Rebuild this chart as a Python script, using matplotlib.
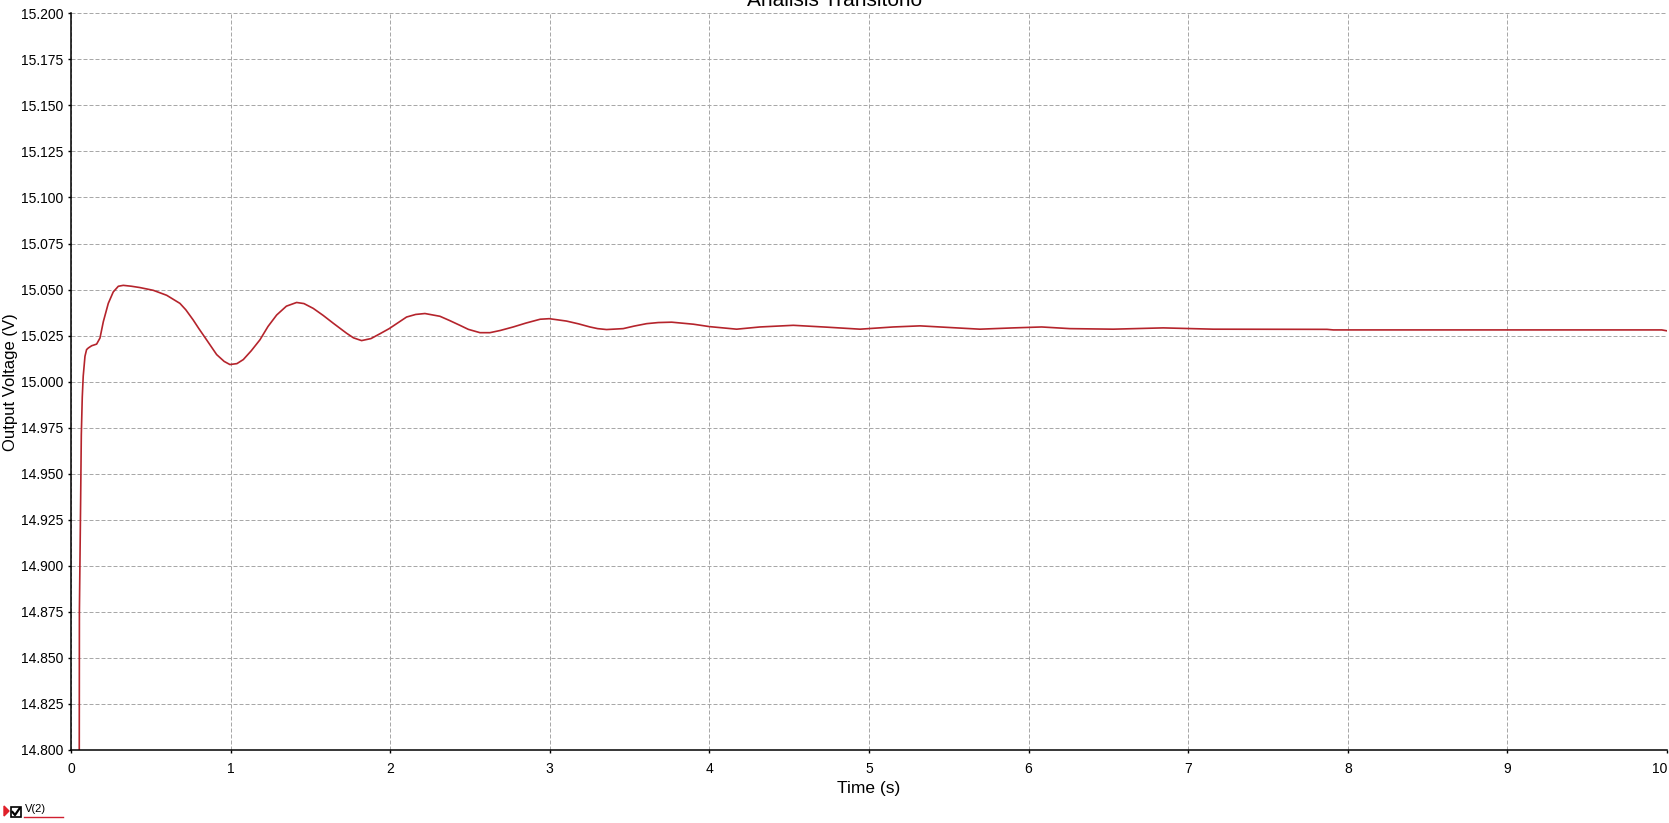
import matplotlib.pyplot as plt
import numpy as np
from matplotlib.patches import Rectangle, Polygon
from matplotlib.lines import Line2D

# transient response
time_s = [0.052, 0.053, 0.061, 0.065, 0.071, 0.077, 0.088, 0.098, 0.109, 0.130,
          0.161, 0.182, 0.203, 0.234, 0.265, 0.297, 0.328, 0.380, 0.432, 0.516,
          0.600, 0.683, 0.720, 0.766, 0.800, 0.850, 0.913, 0.960, 0.996, 1.040,
          1.080, 1.130, 1.184, 1.235, 1.289, 1.350, 1.414, 1.460, 1.518, 1.580,
          1.644, 1.727, 1.770, 1.821, 1.880, 1.940, 1.994, 2.103, 2.160, 2.218,
          2.312, 2.370, 2.437, 2.490, 2.563, 2.625, 2.690, 2.771, 2.850, 2.940,
          2.997, 3.105, 3.180, 3.252, 3.300, 3.356, 3.460, 3.530, 3.607, 3.680,
          3.764, 3.900, 4.000, 4.171, 4.317, 4.526, 4.735, 4.944, 5.152, 5.320,
          5.528, 5.695, 5.904, 6.082, 6.259, 6.530, 6.844, 7.157, 7.870, 7.909,
          9.967, 10.0]
v_out = [14.780, 14.875, 14.937, 14.971, 14.9916, 15.003, 15.0138, 15.0174, 15.0183, 15.0195,
         15.0204, 15.0237, 15.0326, 15.0425, 15.0487, 15.0518, 15.0523, 15.0518, 15.0511, 15.0496,
         15.0469, 15.0425, 15.0390, 15.0335, 15.0290, 15.0227, 15.0147, 15.0110, 15.0093, 15.0098,
         15.0120, 15.0168, 15.0227, 15.0300, 15.0362, 15.0410, 15.0430, 15.0424, 15.0398, 15.0360,
         15.0317, 15.0263, 15.0238, 15.0223, 15.0234, 15.0262, 15.0288, 15.0351, 15.0365, 15.0370,
         15.0355, 15.0333, 15.0306, 15.0284, 15.0266, 15.0266, 15.0278, 15.0297, 15.0318, 15.0339,
         15.0342, 15.0329, 15.0314, 15.0297, 15.0288, 15.0283, 15.0288, 15.0302, 15.0315, 15.0321,
         15.0323, 15.0312, 15.0299, 15.0285, 15.0297, 15.0306, 15.0296, 15.0285, 15.0297, 15.0303,
         15.0293, 15.0285, 15.0292, 15.0297, 15.0288, 15.0285, 15.0292, 15.0285, 15.0284, 15.0281,
         15.0281, 15.0276]

x_ticks = list(range(0, 11))
y_ticks = np.arange(14.800, 15.2001, 0.025)

plt.rcParams['font.family'] = ['Liberation Sans', 'DejaVu Sans']

fig = plt.figure(figsize=(16.69, 8.23), dpi=100)
ax = fig.add_axes([0.0425, 0.0887, 0.9563, 0.8951])

ax.plot(time_s, v_out, color='#B5242C', linewidth=1.2)

ax.set_xlim(0, 10)
ax.set_ylim(14.8, 15.2)
ax.set_xticks(x_ticks)
ax.set_yticks(y_ticks)
ax.set_yticklabels([f"{y:.3f}" for y in y_ticks])
ax.tick_params(axis='both', direction='out', length=2.5, width=1, labelsize=10, colors='black')
ax.tick_params(axis='y', pad=3)
ax.tick_params(axis='x', pad=6)
# last x label sits flush against the right edge, as in the screenshot
ax.get_xticklabels()[-1].set_horizontalalignment('right')

ax.grid(True, color='#A8A8A8', linestyle=(0, (4, 2)), linewidth=0.72)
ax.set_axisbelow(True)
for side in ['top', 'right']:
    ax.spines[side].set_visible(False)
for side in ['left', 'bottom']:
    ax.spines[side].set_linewidth(1.1)

ax.set_xlabel("Time (s)", fontsize=12.5, labelpad=4)
ax.set_ylabel("Output Voltage (V)", fontsize=12, labelpad=2)

# title sits mostly above the window edge, as in the screenshot
fig.text(0.5, 0.993, "Analisis Transitorio", ha='center', va='baseline', fontsize=15)

# little trace legend at the bottom-left corner
W, H = 1669.0, 823.0
fig.add_artist(Polygon([(4 / W, 1 - 806 / H), (9 / W, 1 - 811 / H), (4 / W, 1 - 816 / H)],
                       closed=True, color='#E0202A', transform=fig.transFigure))
fig.add_artist(Rectangle((11 / W, 1 - 817 / H), 10 / W, 10 / H, fill=False,
                         edgecolor='black', linewidth=1.2, transform=fig.transFigure))
fig.add_artist(Line2D([12.5 / W, 15 / W, 19.5 / W], [1 - 812 / H, 1 - 815 / H, 1 - 808.5 / H],
                      color='black', linewidth=1.6, transform=fig.transFigure))
fig.add_artist(Line2D([24 / W, 63 / W], [1 - 817 / H, 1 - 817 / H],
                      color='#D02030', linewidth=1, transform=fig.transFigure))
fig.text(25 / W, 1 - 812 / H, "V(2)", fontsize=8, ha='left', va='baseline')

fig.savefig("out.png", dpi=100)
